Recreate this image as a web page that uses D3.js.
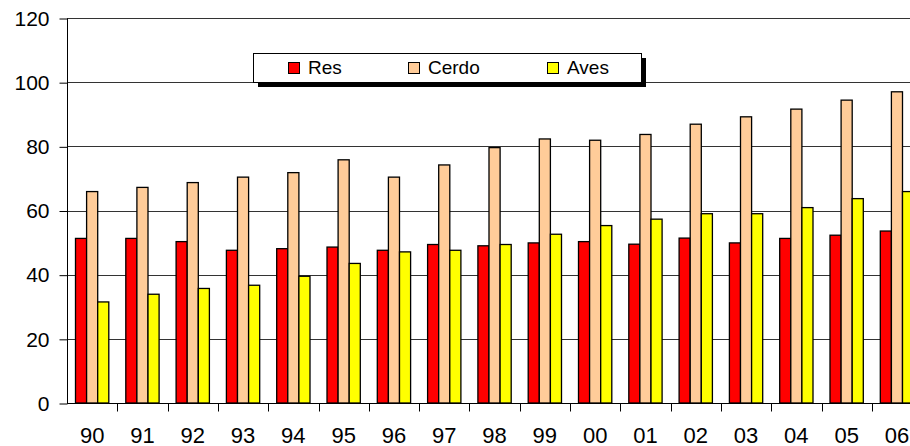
<!DOCTYPE html>
<html><head><meta charset="utf-8">
<script src="https://cdn.jsdelivr.net/npm/d3@7"></script>
<style>html,body{margin:0;padding:0;background:#fff;overflow:hidden}</style>
</head><body>
<svg id="c" width="910" height="446"></svg>
<script>
const categories = ["90","91","92","93","94","95","96","97","98","99","00","01","02","03","04","05","06"];
const seriesNames = ["Res","Cerdo","Aves"];
const res   = [51.3,51.3,50.3,47.6,48.1,48.6,47.6,49.4,49.0,49.9,50.3,49.5,51.4,49.9,51.3,52.3,53.6];
const cerdo = [65.9,67.2,68.7,70.4,71.8,75.8,70.4,74.2,79.6,82.3,81.9,83.7,86.9,89.2,91.6,94.4,97.0];
const aves  = [31.5,33.9,35.7,36.7,39.5,43.5,47.1,47.6,49.4,52.6,55.3,57.3,59.0,59.0,60.9,63.7,65.9];
const colors = ["#FF0000","#FFCC99","#FFFF00"];
const yTicks = [0,20,40,60,80,100,120];

(function(){
const svg = d3.select("#c");
const mLeft = 67, mTop = 18, mBottom = 403, bandW = 50.3;
const mRight = mLeft + bandW * categories.length;
const x = d3.scaleBand().domain(categories).range([mLeft, mRight]).paddingInner(0).paddingOuter(0);
const x1 = d3.scaleBand().domain(seriesNames).range([8.5, x.bandwidth() - 8.5]).paddingInner(0).paddingOuter(0);
const y = d3.scaleLinear().domain([0,120]).range([mBottom, mTop]);
const font = "'Liberation Sans', Arial, sans-serif";

// gridlines
svg.append("g").selectAll("line").data(yTicks.filter(d=>d>0)).join("line")
  .attr("x1", mLeft).attr("x2", 910).attr("y1", d=>Math.round(y(d))+0.5).attr("y2", d=>Math.round(y(d))+0.5)
  .attr("stroke", "#333").attr("stroke-width", 1);

// bars
const data = [res, cerdo, aves];
const g = svg.append("g");
categories.forEach((c, i) => {
  seriesNames.forEach((s, j) => {
    g.append("rect")
      .attr("x", x(c) + x1(s))
      .attr("y", y(data[j][i]))
      .attr("width", x1.bandwidth())
      .attr("height", mBottom - y(data[j][i]))
      .attr("fill", colors[j])
      .attr("stroke", "#000").attr("stroke-width", 1.3);
  });
});

// y axis
const yAxis = d3.axisLeft(y).tickValues(yTicks).tickSize(8).tickPadding(10);
const ya = svg.append("g").attr("transform", `translate(${mLeft+0.5},0.5)`).call(yAxis);
ya.select(".domain").attr("stroke","#000").attr("d", `M0,${mTop}V${mBottom}`);
ya.selectAll(".tick line").attr("stroke","#000");
ya.selectAll("text").attr("font-family", font).attr("font-size", 21).attr("fill","#000");

// x axis
const xAxis = d3.axisBottom(x).tickSize(0);
const xa = svg.append("g").attr("transform", `translate(0,${mBottom+0.5})`).call(xAxis);
xa.select(".domain").attr("stroke","#000").attr("d", `M${mLeft},0H910`);
xa.selectAll("text").attr("font-family", font).attr("font-size", 22).attr("fill","#000")
  .attr("y", 39.5).attr("dy", null);
xa.append("g").selectAll("line").data(categories.slice(1)).join("line")
  .attr("x1", d=>Math.round(x(d))+0.5).attr("x2", d=>Math.round(x(d))+0.5)
  .attr("y1", 0).attr("y2", 8).attr("stroke","#000");

// legend
const lg = svg.append("g");
const lx = 253, ly = 53, lw = 388, lh = 29;
lg.append("rect").attr("x", lx+5).attr("y", ly+5).attr("width", lw).attr("height", lh).attr("fill","#000");
lg.append("rect").attr("x", lx+0.5).attr("y", ly+0.5).attr("width", lw).attr("height", lh).attr("fill","#fff").attr("stroke","#000");
const legX = [288, 408, 547];
seriesNames.forEach((s, j) => {
  lg.append("rect").attr("x", legX[j]+0.5).attr("y", 62.5).attr("width", 11).attr("height", 11)
    .attr("fill", colors[j]).attr("stroke","#000");
  lg.append("text").attr("x", legX[j]+20).attr("y", 74).attr("font-family", font).attr("font-size", 19)
    .attr("fill","#000").text(s);
});
})();
</script>
</body></html>
